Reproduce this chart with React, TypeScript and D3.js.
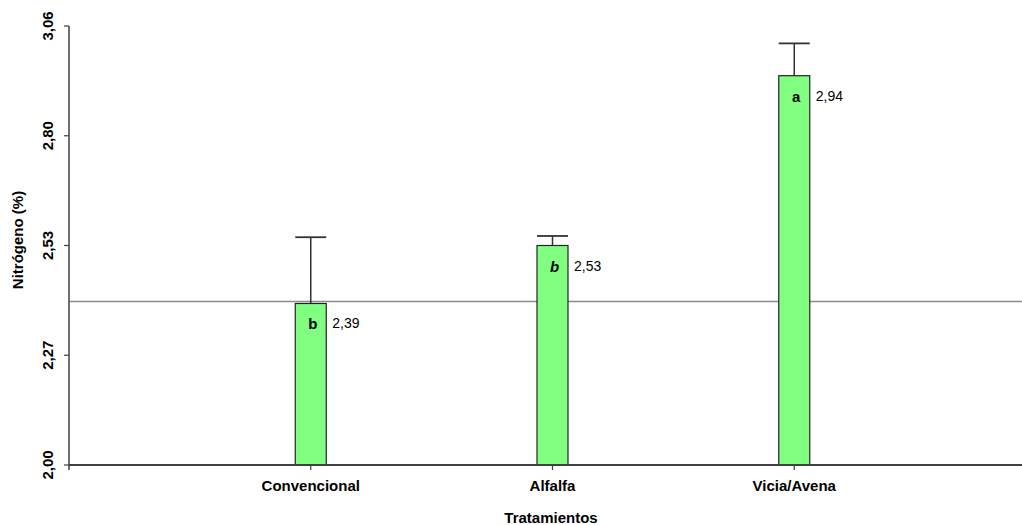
import React from "react";
import * as d3 from "d3";

const categories = ["Convencional", "Alfalfa", "Vicia/Avena"];
const values = [2.39, 2.53, 2.94];
const errorUpper = [2.55, 2.553, 3.018];
const letters = ["b", "b", "a"];
const letterItalic = [false, true, false];
const valueLabels = ["2,39", "2,53", "2,94"];
const yTickValues = [2.0, 2.265, 2.53, 2.795, 3.06];
const yTickLabels = ["2,00", "2,27", "2,53", "2,80", "3,06"];
const referenceValue = 2.395;

const W = 1022;
const H = 525;
const FONT = "'Liberation Sans', Arial, sans-serif";

export default function App() {
  const y = d3.scaleLinear().domain([2.0, 3.06]).range([465, 26]);
  const x = d3.scaleLinear().domain([0, 4]).range([69, 1036]);
  const left = 69;
  const right = 1022;
  const bottom = y(2.0);
  const barW = 31;
  const axisColor = "#404040";

  return (
    <svg
      width={W}
      height={H}
      style={{ position: "absolute", left: 0, top: 0, background: "#fff" }}
      fontFamily={FONT}
    >
      {/* reference line */}
      <line x1={left} x2={right} y1={y(referenceValue)} y2={y(referenceValue)} stroke="#8c8c8c" strokeWidth={1.5} />

      {/* bars */}
      {categories.map((c, i) => {
        const cx = x(i + 1);
        const top = y(values[i]);
        return (
          <g key={c}>
            <line x1={cx} x2={cx} y1={y(errorUpper[i])} y2={top} stroke="#333" strokeWidth={1.5} />
            <line x1={cx - barW / 2} x2={cx + barW / 2} y1={y(errorUpper[i])} y2={y(errorUpper[i])} stroke="#333" strokeWidth={1.8} />
            <rect x={cx - barW / 2} y={top} width={barW} height={bottom - top} fill="#80FF80" stroke="#222" strokeWidth={1.2} />
            <text
              x={cx + 2}
              y={top + 26}
              textAnchor="middle"
              fontSize={15}
              fontWeight="bold"
              fontStyle={letterItalic[i] ? "italic" : "normal"}
              fill="#000"
            >
              {letters[i]}
            </text>
            <text x={cx + barW / 2 + 6} y={top + 25} fontSize={14} fill="#000">
              {valueLabels[i]}
            </text>
          </g>
        );
      })}

      {/* x axis */}
      <line x1={left} x2={right} y1={bottom} y2={bottom} stroke={axisColor} strokeWidth={2} />
      {categories.map((c, i) => (
        <g key={"xt" + c}>
          <line x1={x(i + 1)} x2={x(i + 1)} y1={bottom} y2={bottom + 5} stroke={axisColor} strokeWidth={1.2} />
          <text x={x(i + 1)} y={bottom + 26} textAnchor="middle" fontSize={15} fontWeight="bold" fill="#000">
            {c}
          </text>
        </g>
      ))}
      <text x={551} y={523} textAnchor="middle" fontSize={15} fontWeight="bold" fill="#000">
        Tratamientos
      </text>

      {/* y axis */}
      <line x1={left} x2={left} y1={y(3.06)} y2={bottom + 5} stroke={axisColor} strokeWidth={1.5} />
      {yTickValues.map((v, i) => (
        <g key={"yt" + i}>
          <line x1={left - 5} x2={left} y1={y(v)} y2={y(v)} stroke={axisColor} strokeWidth={1.2} />
          <text
            transform={`translate(${left - 16},${y(v)}) rotate(-90)`}
            textAnchor="middle"
            fontSize={15}
            fontWeight="bold"
            fill="#000"
          >
            {yTickLabels[i]}
          </text>
        </g>
      ))}
      <text
        transform={`translate(23,${240}) rotate(-90)`}
        textAnchor="middle"
        fontSize={15}
        fontWeight="bold"
        fill="#000"
      >
        Nitrógeno (%)
      </text>
    </svg>
  );
}
